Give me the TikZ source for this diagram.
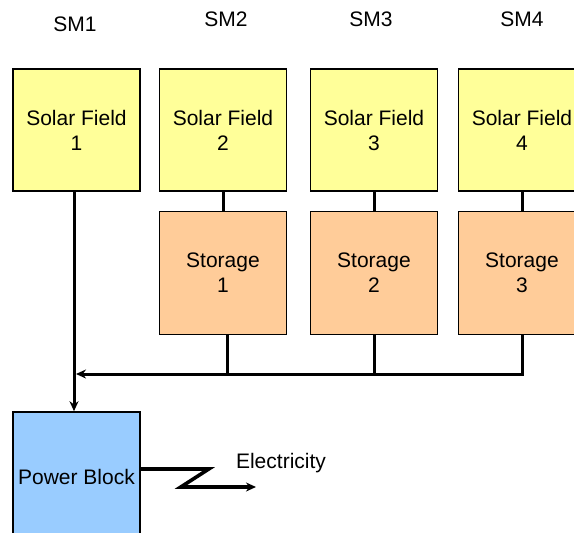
\documentclass[tikz,border=0pt]{standalone}
\usepackage{fontspec}
\setmainfont{Liberation Sans}
\usetikzlibrary{positioning,arrows.meta}
\definecolor{solarfill}{RGB}{255,255,153}
\definecolor{storefill}{RGB}{255,204,153}
\definecolor{blockfill}{RGB}{153,204,255}

\begin{document}
\begin{tikzpicture}[x=1pt, y=-1pt, node distance=19pt, >={Stealth[length=10pt,width=9pt]}]
        % Styles
        \tikzset{solar/.style={rectangle, draw=black, line width=1.6pt, fill=solarfill, minimum width=127pt, minimum height=122pt, align=center, inner sep=0pt, font=\fontsize{21}{25}\selectfont}}
        \tikzset{storage/.style={solar, fill=storefill, minimum height=123pt}}
        \tikzset{block/.style={solar, fill=blockfill, minimum height=123pt}}
        \tikzset{smtext/.style={font=\fontsize{21}{24}\selectfont, inner sep=0pt}}
        \tikzset{flow/.style={line width=3pt}}

        \clip (0,0) rectangle (574,533);

        % Solar fields
        \node[solar] (sf1) at (76.5,130) {Solar Field\\1};
        \node[solar] (sf2) at (223,130) {Solar Field\\2};
        \node[solar] (sf3) at (374,130) {Solar Field\\3};
        \node[solar] (sf4) at (522,130) {Solar Field\\4};

        % Storage
        \node[storage, below=of sf2] (st1) {Storage\\1};
        \node[storage, below=of sf3] (st2) {Storage\\2};
        \node[storage, below=of sf4] (st3) {Storage\\3};

        % Power block
        \node[block] (pb) at (76.5,473.5) {\raisebox{-11pt}[0pt][0pt]{Power Block}};

        % Solar multiples
        \node[smtext] (sm1) at (75,24) {SM1};
        \node[smtext] (sm2) at (226,19) {SM2};
        \node[smtext] (sm3) at (371,19) {SM3};
        \node[smtext] (sm4) at (522,19) {SM4};

        \coordinate (bus) at (76,374);
        \coordinate (elec) at (256,487);
        \node[smtext] (eleclabel) at (281,463) {Electricity};

        % Connections
        \draw[flow] (sf2) -- (st1);
        \draw[flow] (sf3) -- (st2);
        \draw[flow] (sf4) -- (st3);
        \draw[flow] (st1.south) ++(4,0) -- ([xshift=4pt]st1.south |- bus);
        \draw[flow] (st2.south) -- (st2.south |- bus);
        \draw[flow, ->] (st3.south) -- (st3.south |- bus) -- (bus);
        \draw[flow, ->] (sf1.south) ++(-2.5,0) -- ([xshift=-2.5pt]pb.north);
        \draw[line width=3.6pt, ->] ([yshift=4.5pt]pb.east) -- ++(68,0) -- ++(-28,18) -- (elec);
    \end{tikzpicture}
\end{document}
